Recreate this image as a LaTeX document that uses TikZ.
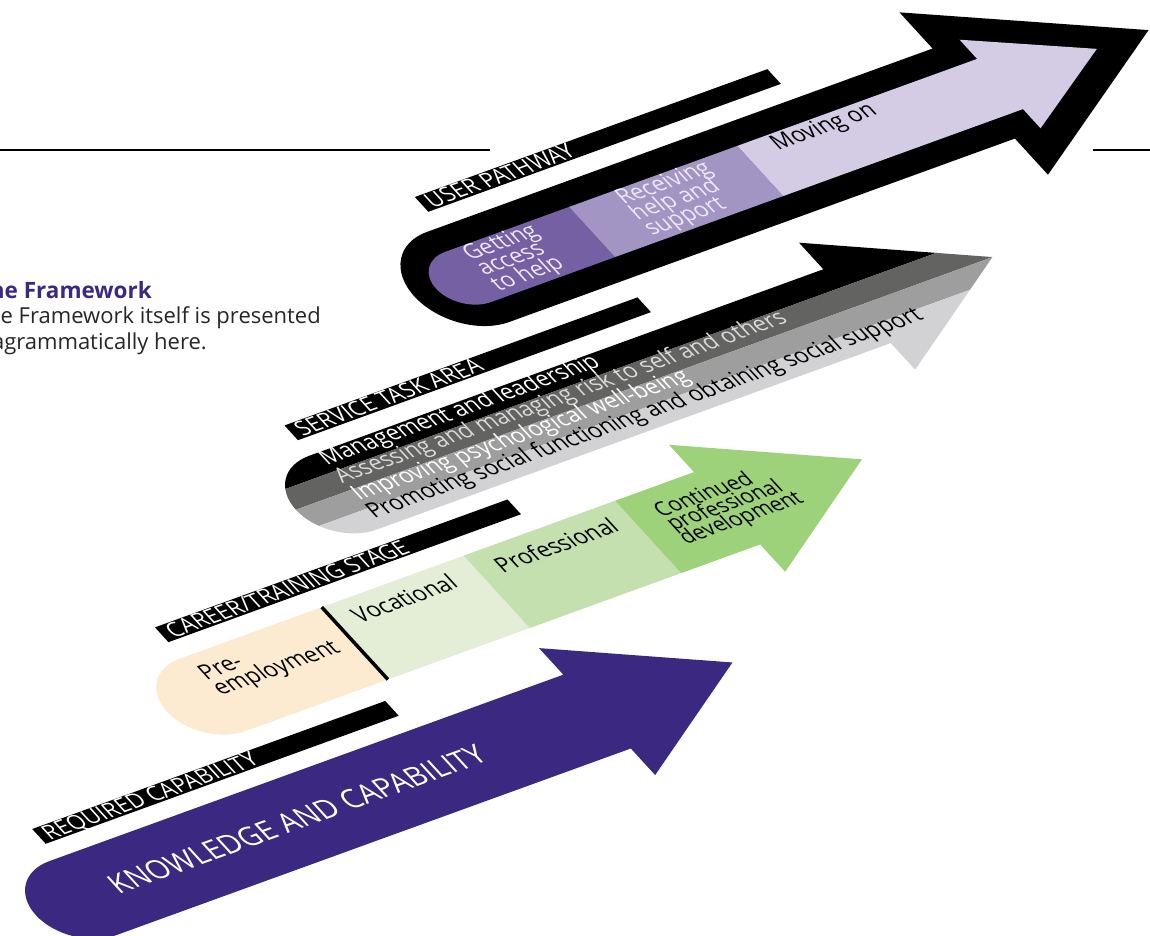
\documentclass[tikz,border=0pt]{standalone}
\usepackage{fontspec}
\setmainfont{Open Sans}
\usepackage{tikz}
\definecolor{capviolet}{RGB}{59,40,128}
\definecolor{userA}{RGB}{116,96,162}
\definecolor{userB}{RGB}{162,149,196}
\definecolor{userC}{RGB}{211,204,228}
\definecolor{usertext}{RGB}{236,232,246}
\definecolor{greyA}{RGB}{99,100,98}
\definecolor{greyB}{RGB}{158,158,158}
\definecolor{greyC}{RGB}{210,210,212}
\definecolor{greytext}{RGB}{218,218,218}
\definecolor{preemp}{RGB}{252,235,208}
\definecolor{vocat}{RGB}{228,238,215}
\definecolor{profl}{RGB}{196,224,174}
\definecolor{contpd}{RGB}{157,209,122}

\begin{document}
\lineskiplimit=-50pt
\begin{tikzpicture}[
    x=1pt, y=1pt,
    flow/.style={cm={0.94,0.341,-0.675,0.738,(#1)}},
    lbl/.style={transform shape, yscale=1.12, inner sep=0pt, align=left,
      font=\fontsize{21.8}{18.6}\selectfont},
    barlbl/.style={transform shape, yscale=1.1, inner sep=0pt, anchor=base west, text=white,
      font=\fontsize{21.5}{21.5}\selectfont},
    bodytxt/.style={inner sep=0pt, anchor=base east, text=black!85, font=\fontsize{22}{25}\selectfont}
  ]
  \useasboundingbox (0,0) rectangle (1150,-936);
  \clip (0,0) rectangle (1150,-936);

  % rules across the page
  \draw[line width=2pt] (0,-150) -- (490,-150);
  \draw[line width=2pt] (1093,-150) -- (1150,-150);

  % side text
  \node[bodytxt, text=capviolet, font=\fontsize{22.5}{25}\bfseries] (title) at (152,-298) {The Framework};
  \node[bodytxt] (body1) at (321,-323.5) {The Framework itself is presented};
  \node[bodytxt] (body2) at (207,-349) {diagrammatically here.};

  % Required capability
  \begin{scope}[flow={82.9,-898.1}]
    \fill (10,69) rectangle (385.5,89);
    \node[barlbl] (reqlbl) at (16,71) {REQUIRED CAPABILITY};
    \fill[capviolet] (547,50) -- (0,50) arc[start angle=90, end angle=270, radius=50]
      -- (547,-50) -- (547,-86) -- (691,0) -- (547,86) -- cycle;
    \node[lbl, anchor=base west, text=white, yscale=0.98, font=\fontsize{28}{28}\selectfont] (know) at (31,-10) {KNOWLEDGE AND CAPABILITY};
  \end{scope}

  % Career/training stage
  \begin{scope}[flow={212.9,-694.8}]
    \fill (3,70) rectangle (378,90);
    \node[barlbl] (careerlbl) at (10,72) {CAREER/TRAINING STAGE};
    \begin{scope}
      \clip (547,49) -- (0,49) arc[start angle=90, end angle=270, radius=49]
        -- (547,-49) -- (547,-86) -- (690.5,0) -- (547,86) -- cycle;
      \fill[preemp] (-60,-90) rectangle (151,90);
      \fill[vocat] (151,-90) rectangle (302,90);
      \fill[profl] (302,-90) rectangle (463,90);
      \fill[contpd] (463,-90) rectangle (700,90);
    \end{scope}
    \draw[line width=3.5pt] (151,-49) -- (151,49);
    \node[lbl, anchor=west] (pre) at (5.5,12.5) {Pre-\\employment};
    \node[lbl, anchor=base west] (voc) at (170,18.5) {Vocational};
    \node[lbl, anchor=base west] (prof) at (320.5,16.5) {Professional};
    \node[lbl, anchor=west, font=\fontsize{20.5}{16.6}\selectfont] (cpd) at (488,2.6) {Continued\\professional\\development};
  \end{scope}

  % Service task area
  \begin{scope}[flow={342.9,-492.7}]
    \fill (2.5,70) rectangle (378,90);
    \node[barlbl] (servlbl) at (9,72) {SERVICE TASK AREA};
    \begin{scope}
      \clip (547,50) -- (0,50) arc[start angle=90, end angle=270, radius=50]
        -- (547,-50) -- (547,-86) -- (691,0) -- (547,86) -- cycle;
      \fill[black] (-60,25) rectangle (700,100);
      \fill[greyA] (-60,0) rectangle (700,25);
      \fill[greyB] (-60,-25) rectangle (700,0);
      \fill[greyC] (-60,-100) rectangle (700,-25);
    \end{scope}
    \node[lbl, anchor=base west, text=white] (lead) at (7,33.5) {Management and leadership};
    \node[lbl, anchor=base west, text=greytext] (risk) at (6,9.5) {Assessing and managing risk to self and others};
    \node[lbl, anchor=base west, text=white] (psych) at (7,-14.5) {Improving psychological well-being};
    \node[lbl, anchor=base west, text=black] (social) at (6,-38) {Promoting social functioning and obtaining social support};
  \end{scope}

  % User pathway
  \begin{scope}[flow={468,-277}]
    \fill (538,61) -- (0,61) arc[start angle=90, end angle=270, x radius=57, y radius=61]
      -- (538,-61) -- (538,-110) -- (724,0) -- (538,110) -- cycle;
    \fill (16,81) rectangle (391,101);
    \node[barlbl] (userlbl) at (22,83) {USER PATHWAY};
    \begin{scope}
      \clip (566,34) -- (0,34) arc[start angle=90, end angle=270, radius=34]
        -- (566,-34) -- (566,-60) -- (669,0) -- (566,60) -- cycle;
      \fill[userA] (-40,-70) rectangle (132,70);
      \fill[userB] (132,-70) rectangle (311,70);
      \fill[userC] (311,-70) rectangle (680,70);
    \end{scope}
    \node[lbl, anchor=west, text=usertext] (access) at (14,1) {Getting\\access\\to help};
    \node[lbl, anchor=west, text=usertext] (support) at (177,1) {Receiving\\help and\\support};
    \node[lbl, anchor=base west] (moving) at (340,14) {Moving on};
  \end{scope}
\end{tikzpicture}
\end{document}
